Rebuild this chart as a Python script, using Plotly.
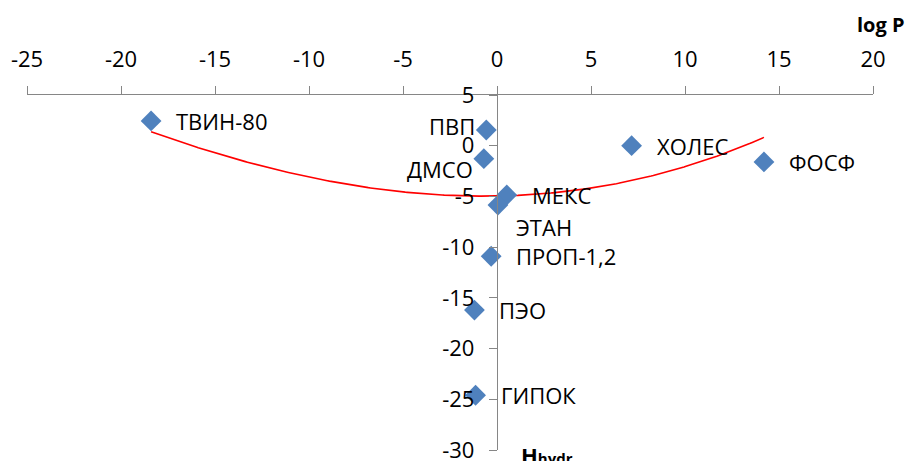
import numpy as np
import plotly.graph_objects as go

# ---- data ----
names = ["ТВИН-80", "ПВП", "ДМСО", "ХОЛЕС", "ФОСФ", "МЕКС", "ЭТАН", "ПРОП-1,2", "ПЭО", "ГИПОК"]
log_p = [-18.4, -0.57, -0.7, 7.16, 14.2, 0.52, 0.05, -0.31, -1.2, -1.14]
h_hydr = [2.44, 1.55, -1.28, 0.0, -1.6, -4.86, -5.85, -10.9, -16.2, -24.6]

# polynomial trendline coefficients (highest power first)
trend_coef = [0.000177, 0.0238, 0.0336, -4.96]

x_ticks = [-25, -20, -15, -10, -5, 0, 5, 10, 15, 20]
x_tick_labels = ["-25", "-20", "-15", "-10", "-5", "0", "5", "10", "15", "20"]
y_ticks = [-30, -25, -20, -15, -10, -5, 0, 5]
y_tick_labels = ["-30", "-25", "-20", "-15", "-10", "-5", "0", "5"]

# ---- style ----
FONT = "Open Sans"
label_style = {
    "ПВП": ("right", -9, 4),
    "ДМСО": ("right", -9, -10),
    "ЭТАН": ("left", 16, -22),
}
default_label = ("left", 23, 0)

fig = go.Figure()

tx = np.linspace(min(log_p), max(log_p), 300)
ty = np.polyval(trend_coef, tx)
fig.add_trace(go.Scatter(x=tx, y=ty, mode="lines",
                         line=dict(color="#FF0000", width=1.6),
                         hoverinfo="skip", showlegend=False, cliponaxis=False))

fig.add_trace(go.Scatter(x=log_p, y=h_hydr, mode="markers",
                         marker=dict(symbol="diamond", size=16, color="#4F81BD",
                                     line=dict(width=0)),
                         text=names, showlegend=False, cliponaxis=False))

for n, xv, yv in zip(names, log_p, h_hydr):
    anchor, xs, ys = label_style.get(n, default_label)
    fig.add_annotation(x=xv, y=yv, text=n, showarrow=False,
                       xanchor=anchor, yanchor="middle", xshift=xs, yshift=ys,
                       font=dict(family=FONT, size=22, color="#000000"))

fig.add_annotation(xref="paper", yref="paper", x=0.979, y=1.2, text="<b>log P</b>",
                   showarrow=False, xanchor="left", yanchor="middle",
                   font=dict(family=FONT, size=20, color="#000000"))
fig.add_annotation(xref="paper", yref="paper", x=0.581, y=-0.013,
                   text="<b>H<span style='font-size:15px'>hydr</span></b>",
                   showarrow=False, xanchor="left", yanchor="middle",
                   font=dict(family=FONT, size=22, color="#000000"))

axis_color = "#868686"
fig.update_layout(
    width=910, height=461,
    margin=dict(l=27, r=37, t=95, b=11),
    paper_bgcolor="white", plot_bgcolor="white",
    font=dict(family=FONT, size=22, color="#000000"),
    xaxis=dict(range=[-25, 20], side="top", tickvals=x_ticks, ticktext=x_tick_labels,
               showgrid=False, zeroline=False, showline=True, automargin=False,
               linecolor=axis_color, linewidth=1.3,
               ticks="outside", ticklen=8, tickcolor=axis_color, tickwidth=1.3,
               tickfont=dict(family=FONT, size=22, color="#000000"),
               ticklabelstandoff=10, ticklabeloverflow="allow"),
    yaxis=dict(range=[-30, 5], tickvals=y_ticks, ticktext=y_tick_labels,
               anchor="free", position=25 / 45, automargin=False,
               showgrid=False, zeroline=False, showline=True,
               linecolor=axis_color, linewidth=1.3,
               ticks="outside", ticklen=8, tickcolor=axis_color, tickwidth=1.3,
               tickfont=dict(family=FONT, size=22, color="#000000"),
               ticklabelstandoff=10, ticklabeloverflow="allow"),
)

fig.write_html("out.html", config={"displayModeBar": False},
               post_script="document.body.style.margin='0';document.body.style.overflow='hidden';")
